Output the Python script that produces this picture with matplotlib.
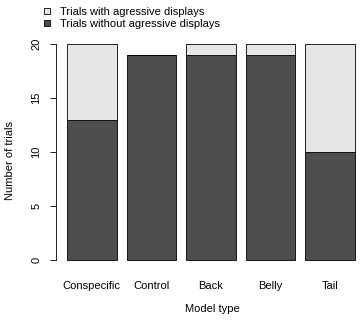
import matplotlib
matplotlib.use("Agg")
import matplotlib.pyplot as plt
from matplotlib.patches import Patch

categories = ["Conspecific", "Control", "Back", "Belly", "Tail"]
without_displays = [13, 19, 19, 19, 10]
with_displays = [7, 0, 1, 1, 10]
yticks = [0, 5, 10, 15, 20]

plt.rcParams['font.family'] = ['Liberation Sans', 'DejaVu Sans']
FS = 8

fig = plt.figure(figsize=(3.61, 3.24), dpi=100)
ax = fig.add_axes([55.5/361, (324-268.6)/324, 311/361, 233.2/324])

dark = "#4d4d4d"
light = "#e6e6e6"
x = [0.7 + 1.2*i for i in range(len(categories))]
ax.bar(x, without_displays, width=1.0, color=dark, edgecolor="black", linewidth=0.6)
ax.bar(x, with_displays, width=1.0, bottom=without_displays, color=light, edgecolor="black", linewidth=0.6)

ax.set_xlim(-0.032, 6.232)
ax.set_ylim(-0.8, 20.8)
for s in ["top", "right", "bottom"]:
    ax.spines[s].set_visible(False)
ax.spines["left"].set_bounds(0, 20)
ax.spines["left"].set_linewidth(0.6)
ax.set_yticks(yticks)
ax.set_yticklabels([str(v) for v in yticks], fontsize=FS)
for lab in ax.get_yticklabels():
    lab.set_rotation(90)
    lab.set_va("center")
ax.tick_params(axis="y", length=4.3, width=0.6, pad=6)
ax.set_xticks(x)
ax.set_xticklabels(categories, fontsize=FS)
ax.tick_params(axis="x", length=0, pad=9)

ax.set_xlabel("Model type", fontsize=FS)
ax.xaxis.set_label_coords(0.503, -0.173)
ax.xaxis.label.set_va("center")
ax.set_ylabel("Number of trials", fontsize=FS)
ax.yaxis.set_label_coords(-0.146, 0.463)
ax.yaxis.label.set_va("center")

handles = [Patch(facecolor=light, edgecolor="black", linewidth=0.6),
           Patch(facecolor=dark, edgecolor="black", linewidth=0.6)]
fig.legend(handles, ["Trials with agressive displays", "Trials without agressive displays"],
           loc="upper left", bbox_to_anchor=(36/361, 1 + 1/324), frameon=False,
           fontsize=FS, handlelength=0.55, handleheight=0.55, handletextpad=0.95,
           labelspacing=0.2, borderpad=0.2)

fig.savefig("out.png", dpi=100)
